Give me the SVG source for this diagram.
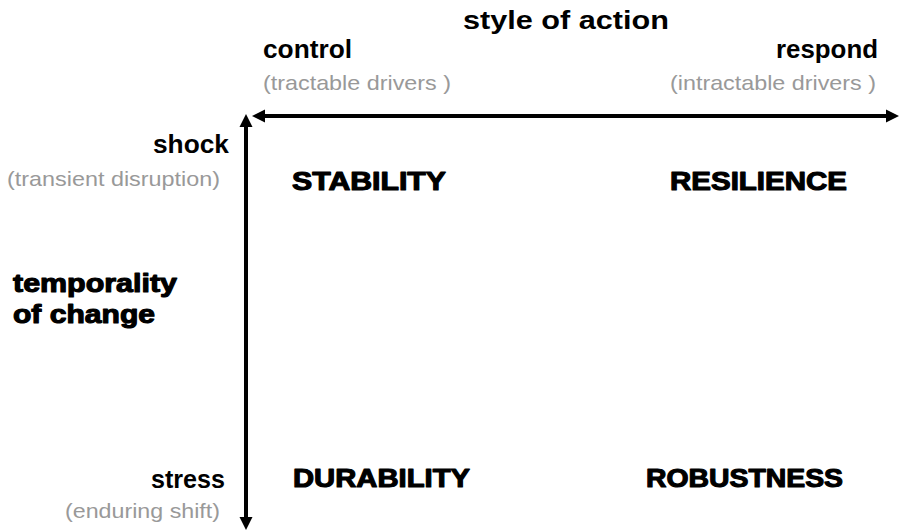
<svg xmlns="http://www.w3.org/2000/svg" width="900" height="531" viewBox="0 0 900 531">
<defs>
<style>
.lbl{font-family:"Liberation Sans",Arial,sans-serif;font-weight:bold;font-size:25px;fill:#000}
.sub{font-family:"Liberation Sans",Arial,sans-serif;font-size:21px;fill:#999}
.big{font-family:"Liberation Sans",Arial,sans-serif;font-weight:bold;font-size:25px;fill:#000;stroke:#000;stroke-width:1.1px;stroke-linejoin:round}
.axis{stroke:#000;stroke-width:4;fill:none}
</style>
<marker id="ah" markerUnits="userSpaceOnUse" markerWidth="14" markerHeight="14" viewBox="0 -7 13 14" refX="0" refY="0" orient="auto-start-reverse" overflow="visible">
<path d="M0,-6.5 L13,0 L0,6.5 Z" fill="#000"/>
</marker>
</defs>
<rect width="900" height="531" fill="#fff"/>
<g id="connectors">
<line class="axis" x1="265" y1="116" x2="886" y2="116" marker-start="url(#ah)" marker-end="url(#ah)"/>
<line class="axis" x1="246" y1="127" x2="246" y2="517" marker-start="url(#ah)" marker-end="url(#ah)"/>
</g>
<g id="axis-x-title"><text class="lbl" x="463" y="29" textLength="206" lengthAdjust="spacingAndGlyphs">style of action</text></g>
<g id="control">
<text class="lbl" x="263" y="58" textLength="89" lengthAdjust="spacingAndGlyphs">control</text>
<text class="sub" x="263" y="90" textLength="188" lengthAdjust="spacingAndGlyphs">(tractable drivers )</text>
</g>
<g id="respond">
<text class="lbl" x="776" y="58" textLength="102" lengthAdjust="spacingAndGlyphs">respond</text>
<text class="sub" x="670" y="90" textLength="206" lengthAdjust="spacingAndGlyphs">(intractable drivers )</text>
</g>
<g id="shock">
<text class="lbl" x="153" y="153" textLength="76" lengthAdjust="spacingAndGlyphs">shock</text>
<text class="sub" x="7" y="186" textLength="213" lengthAdjust="spacingAndGlyphs">(transient disruption)</text>
</g>
<g id="axis-y-title">
<text class="big" x="13" y="292" textLength="164" lengthAdjust="spacingAndGlyphs">temporality</text>
<text class="big" x="13" y="323" textLength="142" lengthAdjust="spacingAndGlyphs">of change</text>
</g>
<g id="stress">
<text class="lbl" x="151" y="488" textLength="74" lengthAdjust="spacingAndGlyphs">stress</text>
<text class="sub" x="65" y="518" textLength="155" lengthAdjust="spacingAndGlyphs">(enduring shift)</text>
</g>
<g id="stability"><text class="big" x="292" y="190" textLength="154" lengthAdjust="spacingAndGlyphs">STABILITY</text></g>
<g id="resilience"><text class="big" x="670" y="190" textLength="177" lengthAdjust="spacingAndGlyphs">RESILIENCE</text></g>
<g id="durability"><text class="big" x="293" y="487" textLength="177" lengthAdjust="spacingAndGlyphs">DURABILITY</text></g>
<g id="robustness"><text class="big" x="646" y="487" textLength="197" lengthAdjust="spacingAndGlyphs">ROBUSTNESS</text></g>
</svg>
